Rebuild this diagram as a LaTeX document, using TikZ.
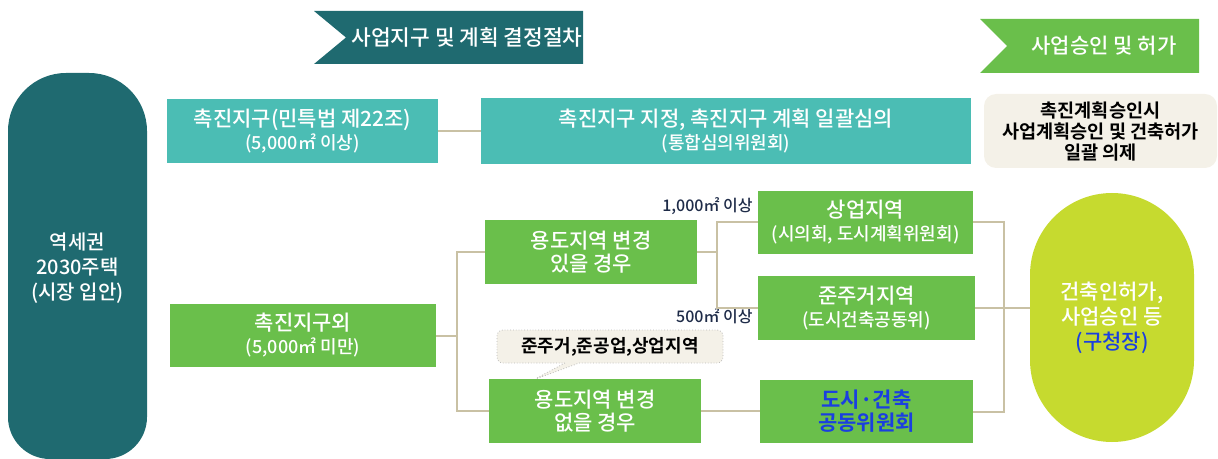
\documentclass[tikz,border=0pt]{standalone}
\usepackage{fontspec}
\setmainfont{Noto Sans CJK KR Medium}[BoldFont={Noto Sans CJK KR Bold}]
\usetikzlibrary{shapes.callouts}

\definecolor{darkteal}{HTML}{1F6A70}
\definecolor{lightteal}{HTML}{4BBDB4}
\definecolor{leafgreen}{HTML}{6ABF4B}
\definecolor{limegreen}{HTML}{C6DA2F}
\definecolor{paper}{HTML}{F4F1E8}
\definecolor{linktan}{HTML}{C9C1A4}
\definecolor{navytext}{HTML}{1E2B48}
\definecolor{bluetext}{HTML}{1A3FE0}

\newcommand{\subline}[1]{{\fontsize{9}{10.5}\selectfont #1}}

\tikzset{
  box/.style={fill=leafgreen, text=white, align=center, inner sep=0pt,
    font=\fontsize{10.5}{11.5}\selectfont},
  tealbox/.style={box, fill=lightteal},
  link/.style={draw=linktan, line width=1pt},
  sizelabel/.style={text=navytext, anchor=east, inner sep=1pt,
    font=\fontsize{8}{9}\selectfont},
}

\begin{document}
\begin{tikzpicture}[x=0.5pt,y=-0.5pt]
  \useasboundingbox (0,0) rectangle (1218,459);

  % 단계 띠
  \fill[darkteal] (314,11) -- (583,11) -- (583,64) -- (314,64) -- (346,37.5) -- cycle;
  \node[text=white, font=\fontsize{10.7}{12}\selectfont] (stageplan) at (467,37.5) {사업지구 및 계획 결정절차};
  \fill[leafgreen] (980,19) -- (1199,19) -- (1199,73) -- (980,73) -- (1007,46) -- cycle;
  \node[text=white, font=\fontsize{10.5}{12}\selectfont] (stagepermit) at (1104,46) {사업승인 및 허가};

  % 왼쪽 기둥
  \fill[darkteal] (77.5,459) [rounded corners=21pt] -- (8,459)
    [rounded corners=29pt] -- (8,73) -- (147,73)
    [rounded corners=21pt] -- (147,459) -- cycle;
  \node[text=white, align=center, font=\fontsize{10}{12.5}\selectfont]
    (station) at (77.5,268) {역세권\\2030주택\\(시장 입안)};

  % 촉진지구
  \node[tealbox, minimum width=135.5pt, minimum height=32pt] (zone) at (302.5,131)
    {촉진지구(민특법 제22조)\\\subline{(5,000㎡ 이상)}};
  \node[tealbox, minimum width=245pt, minimum height=33pt] (review) at (726,131)
    {촉진지구 지정, 촉진지구 계획 일괄심의\\\subline{(통합심의위원회)}};
  \node[fill=paper, rounded corners=6pt, minimum width=116.5pt, minimum height=37pt,
    align=center, inner sep=0pt, font=\bfseries\fontsize{9.3}{10.5}\selectfont]
    (deemed) at (1100.5,131) {촉진계획승인시\\사업계획승인 및 건축허가\\일괄 의제};

  % 촉진지구외
  \node[box, minimum width=133pt, minimum height=31.5pt] (outside) at (303,335.5)
    {촉진지구외\\\subline{(5,000㎡ 미만)}};
  \node[box, minimum width=106pt, minimum height=32pt] (rezone) at (591,252)
    {용도지역 변경\\있을 경우};
  \node[box, minimum width=106pt, minimum height=32pt] (norezone) at (595,411)
    {용도지역 변경\\없을 경우};
  \node[rectangle callout, fill=paper, draw=gray!55, densely dotted, rounded corners=3pt,
    minimum width=113pt, minimum height=16.5pt, inner sep=0pt,
    callout absolute pointer={(533,380)}, font=\bfseries\fontsize{9}{10}\selectfont]
    (zonetypes) at (610,346.5) {준주거,준공업,상업지역};

  \node[box, minimum width=107.5pt, minimum height=31.5pt] (commercial) at (865.5,222.5)
    {상업지역\\\subline{(시의회, 도시계획위원회)}};
  \node[box, minimum width=108.5pt, minimum height=32pt] (semires) at (866.5,308)
    {준주거지역\\\subline{(도시건축공동위)}};
  \node[box, minimum width=106.5pt, minimum height=31.5pt, text=bluetext,
    font=\bfseries\fontsize{10.5}{11.5}\selectfont] (joint) at (866.5,411.5)
    {도시·건축\\공동위원회};
  \node[sizelabel] (bigsite) at (755,206) {1,000㎡ 이상};
  \node[sizelabel] (smallsite) at (755,316) {500㎡ 이상};

  % 인허가
  \node[fill=limegreen, text=white, rounded corners=41pt, minimum width=82pt,
    minimum height=124.5pt, align=center, inner sep=0pt, font=\fontsize{10.5}{12.5}\selectfont]
    (permit) at (1112,317.5) {건축인허가,\\사업승인 등\\\textcolor{bluetext}{(구청장)}};

  % 연결선
  \draw[link] (zone) -- (review);
  \draw[link] (outside.east) -- ++(21,0) coordinate (split);
  \draw[link] (rezone.west) -| (split) |- (norezone.west);
  \draw[link] (rezone.east) -- ++(20,0) coordinate (splitarea);
  \draw[link] (commercial.west) -| (splitarea) |- (semires.west);
  \draw[link] (norezone.east) -- (norezone.east -| joint.west);
  \draw[link] (semires.east) -- ++(29,0) coordinate (merge);
  \draw[link] (commercial.east) -| (merge) |- (joint.east);
  \draw[link] (merge) -- (merge -| permit.west);
\end{tikzpicture}
\end{document}
